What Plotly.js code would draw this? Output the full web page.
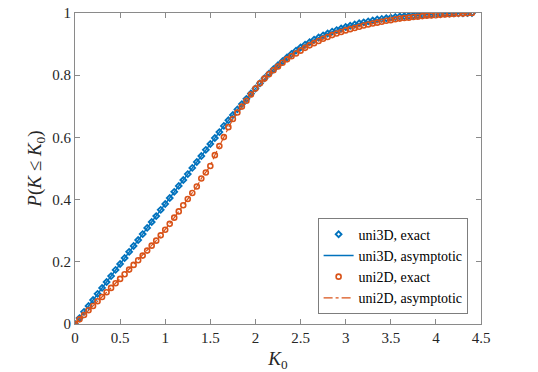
<!DOCTYPE html>
<html>
<head>
<meta charset="utf-8">
<script src="https://cdn.plot.ly/plotly-3.0.1.min.js"></script>
<style>
html,body{margin:0;padding:0;background:#fff;}
#chart{width:538px;height:372px;}
</style>
</head>
<body>
<div id="chart"></div>
<script>
// K0 grid (step 0.05 from 0 to 4.4)
const K0 = [0.00,0.05,0.10,0.15,0.20,0.25,0.30,0.35,0.40,0.45,0.50,0.55,0.60,0.65,0.70,0.75,0.80,0.85,0.90,0.95,
  1.00,1.05,1.10,1.15,1.20,1.25,1.30,1.35,1.40,1.45,1.50,1.55,1.60,1.65,1.70,1.75,1.80,1.85,1.90,1.95,
  2.00,2.05,2.10,2.15,2.20,2.25,2.30,2.35,2.40,2.45,2.50,2.55,2.60,2.65,2.70,2.75,2.80,2.85,2.90,2.95,
  3.00,3.05,3.10,3.15,3.20,3.25,3.30,3.35,3.40,3.45,3.50,3.55,3.60,3.65,3.70,3.75,3.80,3.85,3.90,3.95,
  4.00,4.05,4.10,4.15,4.20,4.25,4.30,4.35,4.40];

// uni3D, P(K <= K0)
const uni3D = [0.000,0.019,0.039,0.058,0.077,0.097,0.116,0.135,0.154,0.174,0.193,0.212,0.232,0.251,0.270,0.289,0.309,0.328,0.347,0.367,
  0.386,0.405,0.425,0.444,0.463,0.482,0.502,0.521,0.540,0.560,0.579,0.598,0.617,0.637,0.655,0.672,0.690,0.707,0.724,0.741,
  0.757,0.774,0.790,0.805,0.819,0.832,0.845,0.857,0.868,0.879,0.889,0.898,0.906,0.914,0.921,0.928,0.934,0.940,0.945,0.950,
  0.955,0.959,0.963,0.967,0.970,0.973,0.976,0.979,0.981,0.983,0.985,0.987,0.989,0.990,0.991,0.992,0.993,0.994,0.995,0.996,
  0.997,0.997,0.998,0.998,0.999,0.999,0.999,1.000,1.000];

// uni2D, P(K <= K0)
const uni2D = [0.000,0.015,0.029,0.044,0.058,0.073,0.087,0.102,0.116,0.131,0.145,0.160,0.175,0.190,0.205,0.220,0.236,0.252,0.268,0.285,
  0.303,0.322,0.342,0.362,0.382,0.402,0.421,0.442,0.468,0.487,0.508,0.543,0.572,0.601,0.633,0.659,0.680,0.699,0.718,0.738,
  0.757,0.774,0.789,0.803,0.816,0.828,0.840,0.851,0.861,0.870,0.879,0.888,0.896,0.903,0.910,0.917,0.923,0.929,0.934,0.939,
  0.944,0.948,0.952,0.956,0.960,0.963,0.966,0.969,0.972,0.975,0.977,0.980,0.982,0.984,0.985,0.987,0.988,0.990,0.991,0.992,
  0.993,0.994,0.995,0.996,0.997,0.998,0.998,0.999,1.000];

const xTicks = [0,0.5,1,1.5,2,2.5,3,3.5,4,4.5];
const xTickText = ['0','0.5','1','1.5','2','2.5','3','3.5','4','4.5'];
const yTicks = [0,0.2,0.4,0.6,0.8,1];
const yTickText = ['0','0.2','0.4','0.6','0.8','1'];

const blue = '#0072BD', orange = '#D95319';
const SERIF = 'Liberation Serif';

const traces = [
  {x: K0, y: uni3D, name: 'uni3D, exact', mode: 'markers', type: 'scatter',
   marker: {symbol: 'diamond-open', size: 4.5, color: blue, line: {width: 1.8, color: blue}}},
  {x: K0, y: uni3D, name: 'uni3D, asymptotic', mode: 'lines', type: 'scatter',
   line: {color: blue, width: 1.5}},
  {x: K0, y: uni2D, name: 'uni2D, exact', mode: 'markers', type: 'scatter',
   marker: {symbol: 'circle-open', size: 5, color: orange, line: {width: 1.6, color: orange}}},
  {x: K0, y: uni2D, name: 'uni2D, asymptotic', mode: 'lines', type: 'scatter',
   line: {color: orange, width: 1.2, dash: 'dashdot'}}
];

const axisCommon = {
  showgrid: false, zeroline: false, showline: true, mirror: 'ticks',
  linecolor: '#8a8a8a', linewidth: 1, ticks: 'inside', ticklen: 5, tickcolor: '#8a8a8a',
  tickfont: {family: SERIF, size: 15, color: '#262626'}
};

const layout = {
  width: 538, height: 372,
  margin: {l: 75, r: 57, t: 13, b: 48},
  paper_bgcolor: '#fff', plot_bgcolor: '#fff',
  font: {family: SERIF, color: '#262626'},
  showlegend: true,
  legend: {x: 0.968, y: 0.032, xanchor: 'right', yanchor: 'bottom',
    bgcolor: '#fff', bordercolor: '#262626', borderwidth: 0.6,
    font: {family: SERIF, size: 14, color: '#000'},
    tracegroupgap: 0, itemwidth: 30},
  xaxis: Object.assign({}, axisCommon, {range: [0, 4.5], tickvals: xTicks, ticktext: xTickText,
    title: {text: '<i>K</i><sub>0</sub>', font: {size: 19, family: SERIF, color: '#262626'}, standoff: 6}}),
  yaxis: Object.assign({}, axisCommon, {range: [0, 1], tickvals: yTicks, ticktext: yTickText,
    title: {text: '<i>P</i>(<i>K</i> ≤ <i>K</i><sub>0</sub>)', font: {size: 19, family: SERIF, color: '#262626'}, standoff: 5}})
};

Plotly.newPlot('chart', traces, layout, {displayModeBar: false, staticPlot: true});
</script>
</body>
</html>
